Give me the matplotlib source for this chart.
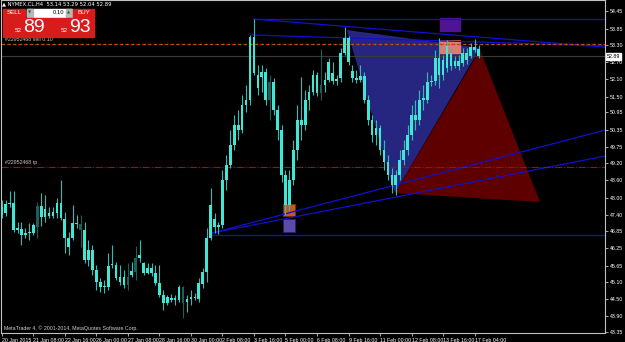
import matplotlib
matplotlib.use("Agg")
import matplotlib.pyplot as plt
from matplotlib.patches import Rectangle, Polygon

plt.rcParams['font.family'] = ['Liberation Sans Narrow', 'Liberation Sans', 'DejaVu Sans']

# ---------------------------
#  DATOS (velas H4, NYMEX.CL)
# ---------------------------
opens = [47.40, 47.47, 47.78, 47.82, 46.88, 46.92, 46.71, 46.78, 46.78, 46.99,
         47.71, 47.33, 47.47, 47.37, 47.47, 47.82, 47.26, 46.61, 46.61, 47.12,
         47.09, 46.88, 45.84, 46.19, 45.50, 45.08, 44.91, 44.91, 45.67, 45.67,
         45.26, 44.98, 45.26, 45.33, 45.43, 45.91, 45.74, 45.39, 45.57, 45.39,
         45.05, 44.63, 44.36, 44.53, 44.46, 44.46, 44.91, 44.39, 44.50, 44.56,
         44.50, 45.01, 45.43, 46.61, 47.26, 46.99, 47.06, 48.61, 49.13, 49.82,
         50.52, 50.34, 51.21, 51.38, 53.56, 52.25, 52.18, 52.35, 51.38, 52.00,
         51.03, 50.34, 48.79, 47.75, 48.61, 49.65, 50.69, 50.52, 51.38, 51.66,
         52.25, 51.62, 51.90, 52.07, 52.31, 52.04, 52.14, 53.01, 53.53, 52.38,
         52.14, 52.07, 52.21, 51.38, 50.69, 50.17, 50.41, 49.65, 49.24, 48.79,
         48.44, 48.79, 49.30, 49.65, 50.17, 50.86, 50.69, 51.45, 51.38, 52.00,
         52.04, 52.83, 52.25, 52.49, 53.01, 52.56, 52.73, 52.66, 53.01, 52.90,
         53.21, 53.14]
highs = [47.92, 47.92, 48.23, 48.23, 47.16, 47.16, 46.95, 47.12, 47.12, 47.85,
         48.16, 48.09, 47.68, 47.68, 47.99, 48.61, 47.50, 46.81, 47.75, 47.40,
         47.40, 47.16, 46.54, 46.36, 45.67, 45.22, 45.15, 46.09, 46.36, 45.78,
         45.67, 45.50, 45.74, 45.78, 46.33, 46.54, 45.78, 45.74, 45.74, 45.67,
         45.67, 44.81, 44.63, 44.67, 44.63, 44.98, 44.94, 44.63, 44.81, 44.70,
         45.22, 45.57, 46.95, 48.34, 47.47, 47.16, 48.96, 49.48, 50.34, 50.86,
         51.03, 51.55, 51.90, 53.63, 54.18, 52.59, 52.59, 52.49, 52.25, 52.14,
         51.21, 50.52, 48.96, 48.96, 50.00, 51.21, 52.18, 51.73, 51.90, 52.42,
         52.35, 53.14, 52.35, 52.83, 52.69, 52.25, 53.18, 53.91, 53.59, 52.59,
         52.42, 52.59, 52.35, 51.55, 50.86, 50.69, 50.52, 50.00, 49.48, 49.03,
         48.96, 49.65, 50.00, 50.52, 51.21, 51.38, 51.73, 51.90, 52.35, 52.25,
         53.11, 53.53, 52.94, 53.46, 53.18, 52.90, 52.94, 53.18, 53.18, 53.35,
         53.49, 53.28]
lows = [47.30, 47.37, 47.68, 46.81, 46.78, 46.36, 46.61, 46.54, 46.71, 46.61,
        47.02, 47.16, 47.30, 47.30, 47.30, 47.23, 46.09, 46.02, 46.54, 46.95,
        46.29, 45.74, 45.64, 45.33, 44.81, 44.74, 44.70, 44.81, 45.57, 45.15,
        44.98, 44.88, 44.81, 45.26, 45.15, 45.78, 45.33, 45.36, 45.29, 44.98,
        44.56, 44.11, 44.29, 44.39, 44.29, 44.39, 43.84, 44.05, 44.29, 44.46,
        44.39, 44.88, 45.08, 46.54, 46.78, 46.74, 46.95, 48.27, 49.03, 49.65,
        50.00, 50.24, 50.96, 51.21, 52.25, 51.55, 51.66, 51.21, 50.69, 50.86,
        50.00, 48.54, 47.40, 47.57, 48.44, 49.30, 50.00, 50.34, 51.03, 51.55,
        51.52, 51.38, 51.66, 52.00, 51.93, 51.90, 52.00, 52.94, 52.59, 52.00,
        51.97, 52.00, 51.28, 50.52, 49.93, 49.82, 49.48, 48.96, 48.61, 48.16,
        48.09, 48.61, 49.13, 49.48, 50.00, 50.34, 50.52, 51.03, 51.28, 51.86,
        51.90, 51.80, 52.07, 52.35, 52.42, 52.49, 52.42, 52.56, 52.63, 52.83,
        53.04, 52.83]
closes = [47.68, 47.78, 47.82, 46.88, 46.95, 46.71, 46.78, 46.81, 47.06, 47.71,
          47.33, 47.61, 47.37, 47.50, 47.82, 47.30, 46.61, 46.29, 47.12, 47.09,
          46.88, 45.84, 46.19, 45.50, 45.08, 44.91, 44.94, 45.64, 45.66, 45.22,
          45.08, 45.26, 44.98, 45.46, 45.91, 46.02, 45.39, 45.57, 45.39, 45.05,
          44.63, 44.36, 44.56, 44.46, 44.53, 44.91, 44.36, 44.50, 44.56, 44.53,
          45.05, 45.43, 46.61, 47.75, 46.99, 47.06, 48.61, 49.13, 49.82, 50.52,
          50.34, 51.21, 51.38, 53.56, 52.31, 51.80, 52.35, 51.38, 52.00, 51.03,
          50.34, 48.79, 47.75, 48.61, 49.65, 50.69, 50.52, 51.38, 51.66, 52.25,
          51.62, 51.90, 52.07, 52.69, 52.04, 52.11, 53.01, 53.53, 52.69, 52.14,
          52.07, 52.21, 51.38, 50.69, 50.17, 50.41, 49.65, 49.24, 48.79, 48.44,
          48.79, 49.30, 49.65, 50.17, 50.86, 50.69, 51.38, 51.38, 52.00, 52.04,
          52.83, 52.25, 52.76, 53.25, 52.56, 52.73, 52.56, 53.01, 52.76, 53.21,
          53.11, 52.89]
dark_bars = [9, 20, 32, 34, 46, 68, 81]

x_labels = ['20 Jan 2015', '21 Jan 08:00', '22 Jan 16:00', '26 Jan 00:00',
            '27 Jan 08:00', '28 Jan 16:00', '30 Jan 00:00', '2 Feb 08:00',
            '3 Feb 16:00', '5 Feb 00:00', '6 Feb 08:00', '9 Feb 16:00',
            '11 Feb 00:00', '12 Feb 08:00', '13 Feb 16:00', '17 Feb 04:00']
y_ticks = [54.45, 53.85, 53.30, 52.70, 52.10, 51.50, 50.95, 50.35, 49.75, 49.20,
           48.60, 48.00, 47.40, 46.85, 46.25, 45.65, 45.10, 44.50, 43.90, 43.35]

# objetos dibujados (barra, precio)
tri_azul = [(87.6, 53.80), (99.8, 48.16), (121.4, 53.18)]
tri_rojo = [(121.4, 53.11), (99.8, 48.16), (136.6, 47.85)]
lineas = [((64, 54.18), (153.1, 54.18)),
          ((64, 54.18), (153.1, 53.21)),
          ((63.5, 53.63), (153.1, 53.25)),
          ((53.4, 46.71), (153.1, 46.71)),
          ((53.4, 46.78), (153.1, 50.34)),
          ((53.4, 46.78), (153.1, 49.44))]
precio_venta = 53.32
precio_tp = 49.07
bid = 52.89

W, H = 625, 342
fig = plt.figure(figsize=(W / 100, H / 100), dpi=100, facecolor='black')
ax = fig.add_axes([1 / W, 9 / H, 604 / W, 333 / H], facecolor='black')
ax.set_xlim(-0.2, 153.1)
ax.set_ylim(43.32, 54.84)

# triangulos y cajas de fondo
ax.add_patch(Polygon(tri_azul, closed=True, color='#262680', zorder=1, lw=0))
ax.add_patch(Polygon(tri_rojo, closed=True, color='#5e0000', zorder=1, lw=0))
ax.add_patch(Rectangle((111.3, 53.77), 5.0, 0.45, color='#4e1496', zorder=1))
ax.add_patch(Rectangle((111.3, 53.01), 5.0, 0.40, color='#e07a74', zorder=1))
ax.plot([111.3, 116.3], [53.41, 53.41], color='#ff6a1a', lw=1.2, zorder=2)
ax.add_patch(Rectangle((71.4, 47.37), 3.0, 0.41, facecolor='#c45a1c',
                       edgecolor='#7a3010', lw=0.6, zorder=1))
ax.add_patch(Rectangle((71.4, 46.81), 3.0, 0.45, facecolor='#5a4ca8',
                       edgecolor='#2a2070', lw=0.6, zorder=1))

# lineas de tendencia
for (x0, y0), (x1, y1) in lineas:
    ax.plot([x0, x1], [y0, y1], color='#1010d0', lw=0.9, zorder=2)

# lineas de orden y bid
ax.axhline(bid, color='#3a3a3a', lw=0.8, zorder=1)
ax.axhline(precio_venta, color='#ff1010', lw=0.9, ls=(0, (3, 1.5)), zorder=2)
ax.axhline(precio_venta, color='#10c010', lw=0.9, ls=(3, (1, 3.5)), zorder=2)
ax.axhline(precio_tp, color='#c00000', lw=0.8, ls='-.', zorder=2)
ax.text(0.8, precio_venta + 0.05, '#22952468 sell 0.10', color='#c8c8c8',
        fontsize=3.8, va='bottom')
ax.text(0.8, precio_tp + 0.05, '#22952468 tp', color='#c8c8c8',
        fontsize=3.8, va='bottom')

# velas
for i in range(len(opens)):
    col = '#1f5e58' if i in dark_bars else '#40e6d6'
    wick = '#1f5e58' if i in dark_bars else '#34bcb2'
    ax.vlines(i, lows[i], highs[i], color=wick, lw=0.8, zorder=3)
    lo = min(opens[i], closes[i])
    h = max(abs(closes[i] - opens[i]), 0.03)
    ax.bar(i, h, bottom=lo, width=0.68, color=col, lw=0, zorder=4)

# ejes
for s in ax.spines.values():
    s.set_color('#c0c0c0')
    s.set_linewidth(0.8)
ax.yaxis.tick_right()
ax.set_yticks(y_ticks)
ax.set_yticklabels(['%.2f' % v for v in y_ticks])
ax.set_xticks(range(0, 121, 8))
ax.set_xticklabels(x_labels, ha='left')
ax.tick_params(colors='#c0c0c0', labelcolor='white', labelsize=3.8,
               length=2.5, width=0.6, pad=1)
ax.tick_params(axis='y', pad=0.8)
ax.text(1.003, bid, '52.89', transform=ax.get_yaxis_transform(), fontsize=3.8,
        color='black', va='center', ha='left',
        bbox=dict(boxstyle='square,pad=0.12', fc='white', ec='white'))

ax.text(0.5, 43.5, 'MetaTrader 4, \u00a9 2001-2014, MetaQuotes Software Corp.',
        color='#d0d0d0', fontsize=3.8, va='center')

# panel de operaciones (pixeles)
def rect(x0, y0, x1, y1, **kw):
    fig.add_artist(Rectangle((x0 / W, 1 - y1 / H), (x1 - x0) / W, (y1 - y0) / H,
                             transform=fig.transFigure, **kw))

def txt(x, y, s, **kw):
    fig.text(x / W, 1 - y / H, s, **kw)

txt(2, 4, '\u25b2 NYMEX.CL,H4  53.14 53.29 52.04 52.89', color='white',
    fontsize=3.8, va='center', family=['Liberation Sans Narrow', 'DejaVu Sans'])
rect(3, 9, 25, 17, color='#d81c1c')
rect(27, 9, 72, 17, color='white')
rect(27, 9, 33, 17, color='#b8b8b8')
rect(66, 9, 72, 17, color='#b8b8b8')
rect(73, 9, 94, 17, color='#d81c1c')
txt(14, 13, 'SELL', color='white', fontsize=4.5, ha='center', va='center')
txt(84, 13, 'BUY', color='white', fontsize=4.5, ha='center', va='center')
txt(30, 13, '\u25bc', color='#2a6a2a', fontsize=3, ha='center', va='center',
    family='DejaVu Sans')
txt(69, 13, '\u25b2', color='#2a6a2a', fontsize=3, ha='center', va='center',
    family='DejaVu Sans')
txt(64, 13, '0.10', color='black', fontsize=4.2, ha='right', va='center')
rect(3, 18, 48, 37, color='#d81c1c')
rect(49, 18, 94, 37, color='#d81c1c')
txt(22, 31, '52', color='white', fontsize=4.5, ha='right', va='center')
txt(23, 28, '89', color='white', fontsize=14, ha='left', va='center',
    family='Liberation Sans')
txt(68, 31, '52', color='white', fontsize=4.5, ha='right', va='center')
txt(69, 28, '93', color='white', fontsize=14, ha='left', va='center',
    family='Liberation Sans')

plt.savefig('out.png', dpi=100, facecolor='black')
